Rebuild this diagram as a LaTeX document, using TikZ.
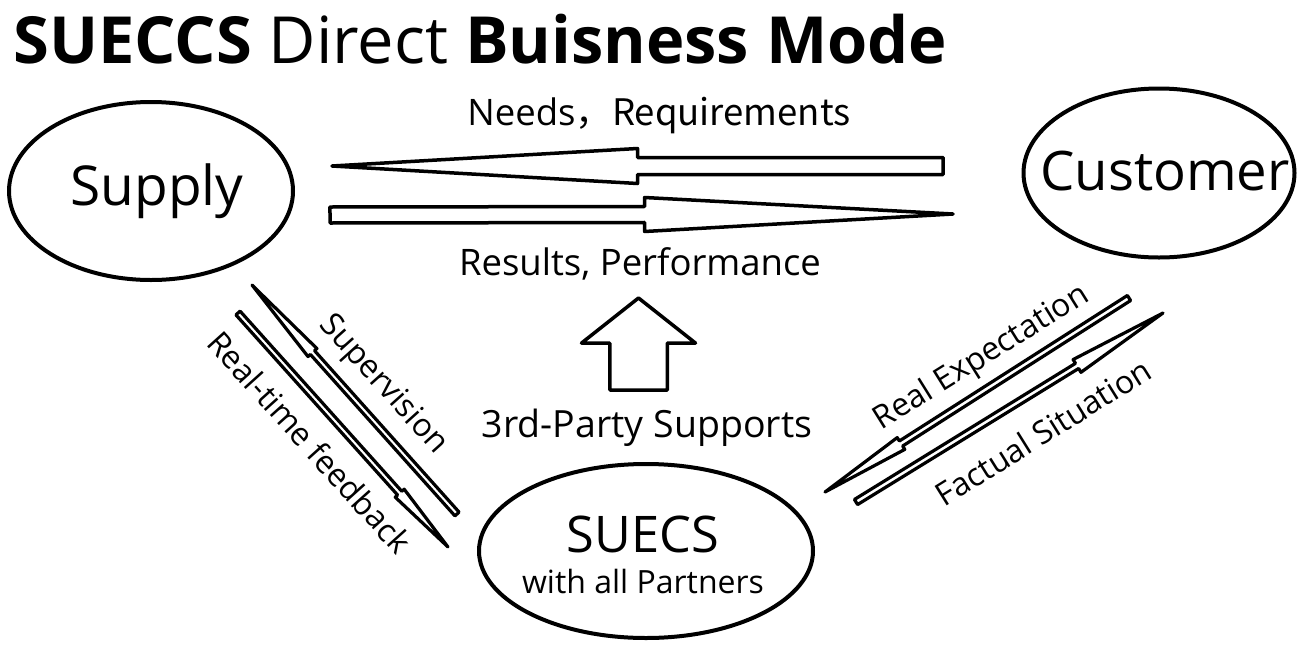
\documentclass[tikz,border=0pt]{standalone}
\usepackage{fontspec}
\setmainfont{Open Sans}
\newfontfamily\cjk{Noto Sans CJK SC}
\usetikzlibrary{shapes.geometric,calc}
\begin{document}
\begin{tikzpicture}[x=1pt,y=-1pt,line join=round,line cap=round,
    oval/.style={draw,ellipse,line width=4pt,inner sep=0pt},
    blockarr/.style={draw,line width=3.5pt},
    thinarr/.style={line width=3.2pt},
    lbl/.style={inner sep=0pt,anchor=base}]
    \useasboundingbox (0,0) rectangle (1307,651);
    \def\fs#1{\fontsize{#1}{#1}\selectfont}
    % #1 style, #2 tail, #3 tip, #4 where the head starts, #5 shaft, #6 head
    \def\blockarrow#1#2#3#4#5#6{\coordinate (#2h) at ($(#2)!#4!(#3)$);
      \draw[blockarr,#1] ($(#2)!#5!90:(#3)$)--($(#2h)!#5!90:(#3)$)--($(#2h)!#6!90:(#3)$)--(#3)
        --($(#2h)!#6!-90:(#3)$)--($(#2h)!#5!-90:(#3)$)--($(#2)!#5!-90:(#3)$)--cycle;}
    \node[lbl,anchor=base west,font=\fs{65}] (title) at (13,63) {\textbf{SUECCS} Direct \textbf{Buisness Mode}};
    \node[oval,minimum width=284pt,minimum height=178pt,label={[font=\fs{55},xshift=6pt]center:Supply}] (supply) at (151,191) {};
    \node[oval,minimum width=271pt,minimum height=169pt,label={[font=\fs{54.5},xshift=6pt,yshift=2pt]center:Customer}] (customer) at (1159,173) {};
    \node[oval,minimum width=334pt,minimum height=174pt,
      label={[align=center,font=\fs{50.5},xshift=-3pt,yshift=-4pt]center:{SUECS\\[-9pt]{\fs{32}with all Partners}}}] (suecs) at (646,551) {};
    \node[lbl,font=\fs{36.5}] (needs) at (659,125) {Needs\cjk{，}Requirements};
    \node[lbl,font=\fs{36.5}] (results) at (640,275) {Results, Performance};
    \node[lbl,font=\fs{37.5}] (third) at (647,437) {3rd-Party Supports};
    \node[font=\fs{32},rotate=-48] (supervision) at (383,385) {Supervision};
    \node[font=\fs{32},rotate=-48] (feedback) at (310,442) {Real-time feedback};
    \node[font=\fs{32},rotate=32] (expectation) at (982,358) {Real Expectation};
    \node[font=\fs{32},rotate=32] (factual) at (1043,432) {Factual Situation};
    % block arrows
    \coordinate (needsA) at (943,166); \coordinate (needsB) at (332,166);
    \coordinate (resultsA) at (330,215); \coordinate (resultsB) at (953,214);
    \coordinate (thirdA) at (638.5,390); \coordinate (thirdB) at (638.5,298);
    \coordinate (supA) at (457,514); \coordinate (supB) at (252,285);
    \coordinate (fbA) at (238,313); \coordinate (fbB) at (448,547);
    \coordinate (expA) at (1129,298); \coordinate (expB) at (825,492);
    \coordinate (facA) at (856,502); \coordinate (facB) at (1163,313);
    \blockarrow{}{needsA}{needsB}{0.5}{8.5pt}{17.5pt}
    \blockarrow{}{resultsA}{resultsB}{0.505}{8pt}{17pt}
    \blockarrow{}{thirdA}{thirdB}{0.51}{28.75pt}{57pt}
    \blockarrow{thinarr}{supA}{supB}{0.705}{2.8pt}{6pt}
    \blockarrow{thinarr}{fbA}{fbB}{0.77}{2.8pt}{6pt}
    \blockarrow{thinarr}{expA}{expB}{0.75}{3pt}{7pt}
    \blockarrow{thinarr}{facA}{facB}{0.72}{3pt}{7.5pt}
\end{tikzpicture}
\end{document}
